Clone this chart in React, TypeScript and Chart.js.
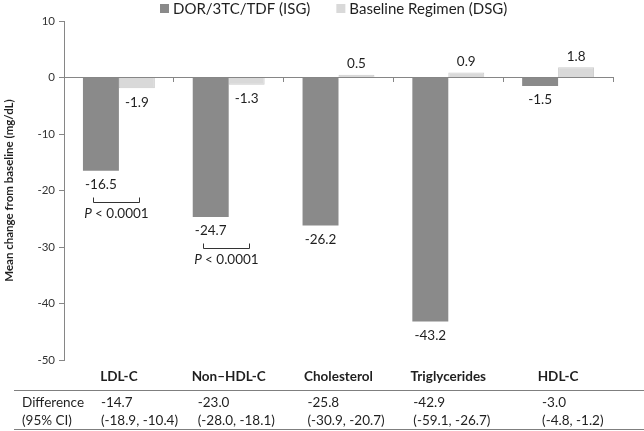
import { useEffect, useRef } from "react";
import { Chart, registerables } from "chart.js";

Chart.register(...registerables);

// ---- data ----
const categories = ["LDL-C", "Non\u2013HDL-C", "Cholesterol", "Triglycerides", "HDL-C"];
const seriesLabels = ["DOR/3TC/TDF (ISG)", "Baseline Regimen (DSG)"];
const isgValues = [-16.5, -24.7, -26.2, -43.2, -1.5];
const dsgValues = [-1.9, -1.3, 0.5, 0.9, 1.8];
const yTicks = [10, 0, -10, -20, -30, -40, -50];
const diffEstimates = ["-14.7", "-23.0", "-25.8", "-42.9", "-3.0"];
const diffCIs = ["(-18.9, -10.4)", "(-28.0, -18.1)", "(-30.9, -20.7)", "(-59.1, -26.7)", "(-4.8, -1.2)"];
const pValues = ["< 0.0001", "< 0.0001", "", "", ""];
const tableRowLabels = ["Difference", "(95% CI)"];
const yTitle = "Mean change from baseline (mg/dL)";

// ---- styles ----
const FONT = "Lato";
const DARK = "#8a8a8a";
const LIGHT = "#d9d9d9";
const AXIS = "#868686";
const TEXT = "#1f1f1f";
const tableColOffsets = [-18, -31, -31, -35, -16];

const overlay = {
  id: "overlay",
  afterDraw(chart: any) {
    const ctx = chart.ctx as CanvasRenderingContext2D;
    const xs = chart.scales.x;
    ctx.save();
    // data labels
    ctx.font = `13.5px ${FONT}`;
    ctx.fillStyle = TEXT;
    ctx.textAlign = "center";
    ctx.textBaseline = "middle";
    chart.data.datasets.forEach((ds: any, di: number) => {
      const meta = chart.getDatasetMeta(di);
      meta.data.forEach((bar: any, i: number) => {
        const v = ds.data[i];
        const y = v < 0 ? bar.y + 14 : bar.y - 11;
        ctx.fillText(v.toFixed(1), bar.x, y);
      });
    });
    // significance brackets
    const m0 = chart.getDatasetMeta(0);
    const m1 = chart.getDatasetMeta(1);
    pValues.forEach((p, i) => {
      if (!p) return;
      const b0 = m0.data[i];
      const b1 = m1.data[i];
      const x1 = Math.round(b0.x - 8) + 0.5;
      const x2 = Math.round(b1.x + 2) + 0.5;
      const yT = Math.round(b0.y + 26) + 0.5;
      const yB = yT + 5;
      ctx.strokeStyle = "#333";
      ctx.lineWidth = 1;
      ctx.beginPath();
      ctx.moveTo(x1, yT);
      ctx.lineTo(x1, yB);
      ctx.lineTo(x2, yB);
      ctx.lineTo(x2, yT);
      ctx.stroke();
      const cx = (x1 + x2) / 2;
      const ty = b0.y + 43;
      ctx.font = `italic 13.5px ${FONT}`;
      const wP = ctx.measureText("P ").width;
      ctx.font = `13.5px ${FONT}`;
      const wR = ctx.measureText(p).width;
      const start = cx - (wP + wR) / 2;
      ctx.textAlign = "left";
      ctx.font = `italic 13.5px ${FONT}`;
      ctx.fillText("P ", start, ty);
      ctx.font = `13.5px ${FONT}`;
      ctx.fillText(p, start + wP, ty);
      ctx.textAlign = "center";
    });
    // legend
    ctx.font = `15px ${FONT}`;
    ctx.textAlign = "left";
    let lx = 160;
    chart.data.datasets.forEach((ds: any) => {
      ctx.fillStyle = ds.backgroundColor;
      ctx.fillRect(lx, 4, 9, 9);
      ctx.fillStyle = TEXT;
      ctx.fillText(ds.label, lx + 13, 9);
      lx += 13 + ctx.measureText(ds.label).width + 26;
    });
    // table
    ctx.strokeStyle = "#7f7f7f";
    ctx.lineWidth = 1;
    ctx.beginPath();
    ctx.moveTo(14, 390.5);
    ctx.lineTo(644, 390.5);
    ctx.moveTo(14, 429.5);
    ctx.lineTo(644, 429.5);
    ctx.stroke();
    ctx.fillStyle = TEXT;
    ctx.font = `13.5px ${FONT}`;
    ctx.fillText(tableRowLabels[0], 22, 403);
    ctx.fillText(tableRowLabels[1], 22, 421);
    categories.forEach((_, i) => {
      const x = xs.getPixelForValue(i) + tableColOffsets[i];
      ctx.fillText(diffEstimates[i], x, 403);
      ctx.fillText(diffCIs[i], x, 421);
    });
    ctx.restore();
  },
};

export default function App() {
  const ref = useRef<HTMLCanvasElement>(null);
  useEffect(() => {
    document.body.style.margin = "0";
    const chart = new Chart(ref.current!, {
      type: "bar",
      data: {
        labels: categories,
        datasets: [
          { label: seriesLabels[0], data: isgValues, backgroundColor: DARK, borderWidth: 0 },
          { label: seriesLabels[1], data: dsgValues, backgroundColor: LIGHT, borderColor: "#cccccc", borderWidth: 1 },
        ],
      },
      options: {
        responsive: false,
        animation: false,
        layout: { padding: { top: 21, right: 31, left: 0, bottom: 0 } },
        datasets: { bar: { categoryPercentage: 0.655, barPercentage: 1 } },
        plugins: { legend: { display: false }, tooltip: { enabled: false } },
        scales: {
          x: {
            type: "category",
            offset: true,
            grid: { display: false, drawTicks: false },
            border: { display: false },
            ticks: { font: { family: FONT, size: 13.5, weight: "bold" }, color: TEXT, padding: 9, maxRotation: 0 },
            afterFit: (s: any) => { s.height = 71; },
          },
          x2: {
            type: "category",
            labels: categories,
            position: { y: 0 },
            offset: true,
            grid: { offset: true, drawOnChartArea: false, drawTicks: true, tickLength: 4, color: AXIS },
            border: { color: AXIS, width: 1 },
            ticks: { display: false },
          },
          y: {
            type: "linear",
            min: -50,
            max: 10,
            afterBuildTicks: (s: any) => { s.ticks = yTicks.map((v) => ({ value: v })); },
            grid: { drawOnChartArea: false, drawTicks: true, tickLength: 5, color: AXIS },
            border: { color: AXIS, width: 1 },
            ticks: { font: { family: FONT, size: 11.5 }, color: "#333", padding: 4 },
            title: { display: true, text: yTitle, font: { family: FONT, size: 11.5, weight: "bold" }, color: TEXT, padding: { top: 2, bottom: 0 } },
            afterFit: (s: any) => { s.width = 64; },
          },
        },
      } as any,
      plugins: [overlay],
    });
    return () => chart.destroy();
  }, []);
  return (
    <div style={{ position: "absolute", left: 0, top: 0, width: 644, height: 431 }}>
      <canvas ref={ref} width={644} height={431} />
    </div>
  );
}
